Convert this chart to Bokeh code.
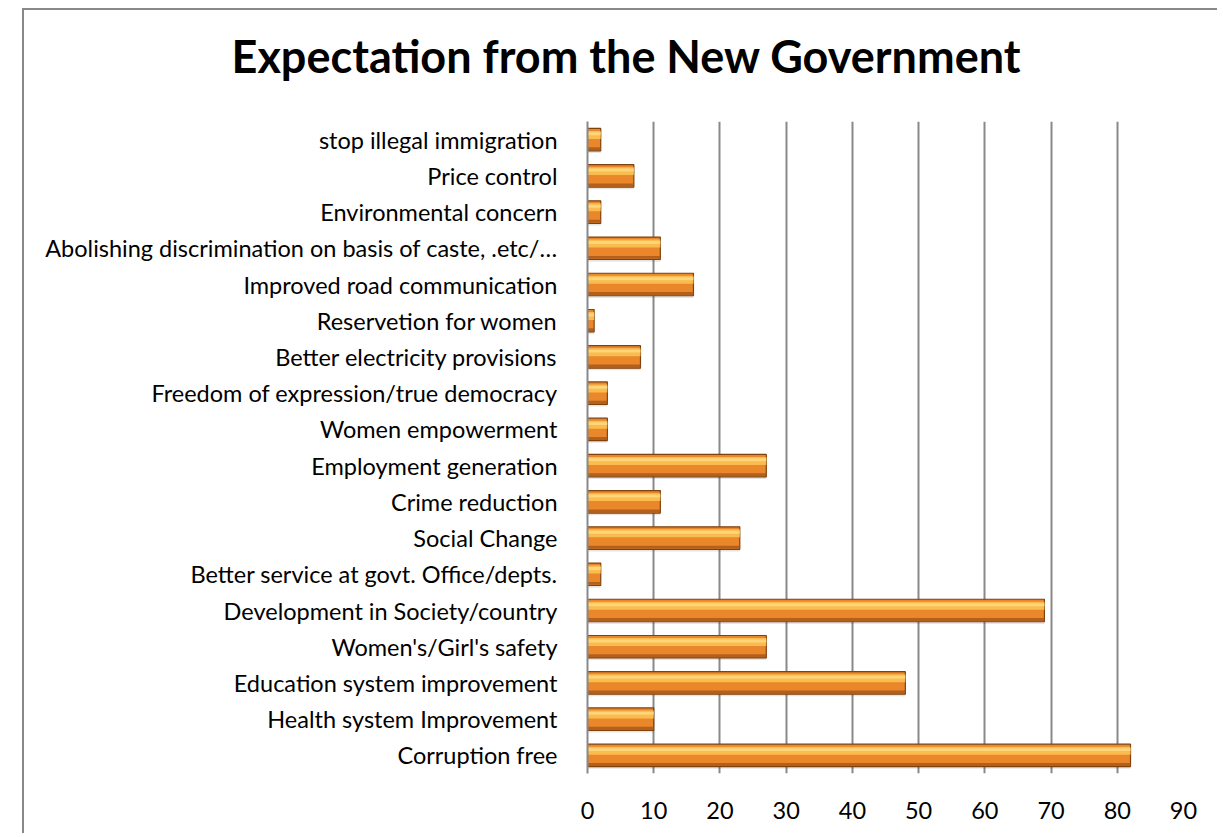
from bokeh.plotting import figure
from bokeh.models import FactorRange, Range1d, ColumnDataSource, FixedTicker, Title
from bokeh.transform import dodge
from bokeh.embed import file_html
from bokeh.resources import INLINE

title_text = "Expectation from the New Government"
categories = [
    "stop illegal immigration",
    "Price control",
    "Environmental concern",
    "Abolishing discrimination on basis of caste, .etc/…",
    "Improved road communication",
    "Reservetion for women",
    "Better electricity provisions",
    "Freedom of expression/true democracy",
    "Women empowerment",
    "Employment generation",
    "Crime reduction",
    "Social Change",
    "Better service at govt. Office/depts.",
    "Development in Society/country",
    "Women's/Girl's safety",
    "Education system improvement",
    "Health system Improvement",
    "Corruption free",
]
values = [2, 7, 2, 11, 16, 1, 8, 3, 3, 27, 11, 23, 2, 69, 27, 48, 10, 82]
x_ticks = [0, 10, 20, 30, 40, 50, 60, 70, 80, 90]

src = ColumnDataSource(data=dict(cat=categories, val=values))

W, H = 1195, 825
p = figure(
    width=W, height=H,
    y_range=FactorRange(factors=list(reversed(categories))),
    x_range=Range1d(0, 90),
    output_backend="svg", toolbar_location=None,
    min_border_left=563, min_border_right=36, min_border_top=110, min_border_bottom=62,
)
p.margin = (8, 0, 0, 22)
p.styles = {"border-top": "2px solid #898989", "border-left": "2px solid #898989"}
p.outline_line_color = None

p.title.text = title_text
p.title.text_font = "Lato"
p.title.text_font_style = "bold"
p.title.text_font_size = "45px"
p.title.text_color = "#000000"
p.title.align = "left"
p.title.offset = -356
p.title.standoff = 32

# blank spacer between the title and the plot area
p.add_layout(Title(text=" ", text_font_size="1px", standoff=20), "above")

# shadow
p.hbar(y=dodge("cat", -0.06, range=p.y_range), right="val", left=0, height=0.62,
       source=src, fill_color="#000000", fill_alpha=0.10, line_color=None)
# base bar
p.hbar(y="cat", right="val", left=0, height=0.62, source=src,
       fill_color="#EA872A", line_color="#7E420F", line_width=1.2)
# top highlight
p.hbar(y=dodge("cat", 0.13, range=p.y_range), right="val", left=0, height=0.22, source=src,
       fill_color="#FDC456", fill_alpha=0.85, line_color=None)
p.hbar(y=dodge("cat", 0.16, range=p.y_range), right="val", left=0, height=0.08, source=src,
       fill_color="#FFE08A", fill_alpha=0.7, line_color=None)
# bottom dark band
p.hbar(y=dodge("cat", -0.25, range=p.y_range), right="val", left=0, height=0.08, source=src,
       fill_color="#A5561A", fill_alpha=0.8, line_color=None)

p.xgrid.grid_line_color = "#898989"
p.xgrid.grid_line_width = 2
p.ygrid.grid_line_color = None

p.xaxis.ticker = FixedTicker(ticks=x_ticks)
p.xaxis.axis_line_color = None
p.xaxis.major_tick_line_color = None
p.xaxis.minor_tick_line_color = None
p.xaxis.major_label_text_font = "Lato"
p.xaxis.major_label_text_font_size = "23.5px"
p.xaxis.major_label_text_color = "#000000"
p.xaxis.major_label_standoff = 22

p.yaxis.axis_line_color = "#898989"
p.yaxis.axis_line_width = 2
p.yaxis.major_tick_line_color = None
p.yaxis.minor_tick_line_color = None
p.yaxis.major_label_text_font = "Lato"
p.yaxis.major_label_text_font_size = "23.5px"
p.yaxis.major_label_text_color = "#000000"
p.yaxis.major_label_standoff = 24

open("out.html", "w").write(file_html(p, INLINE))
